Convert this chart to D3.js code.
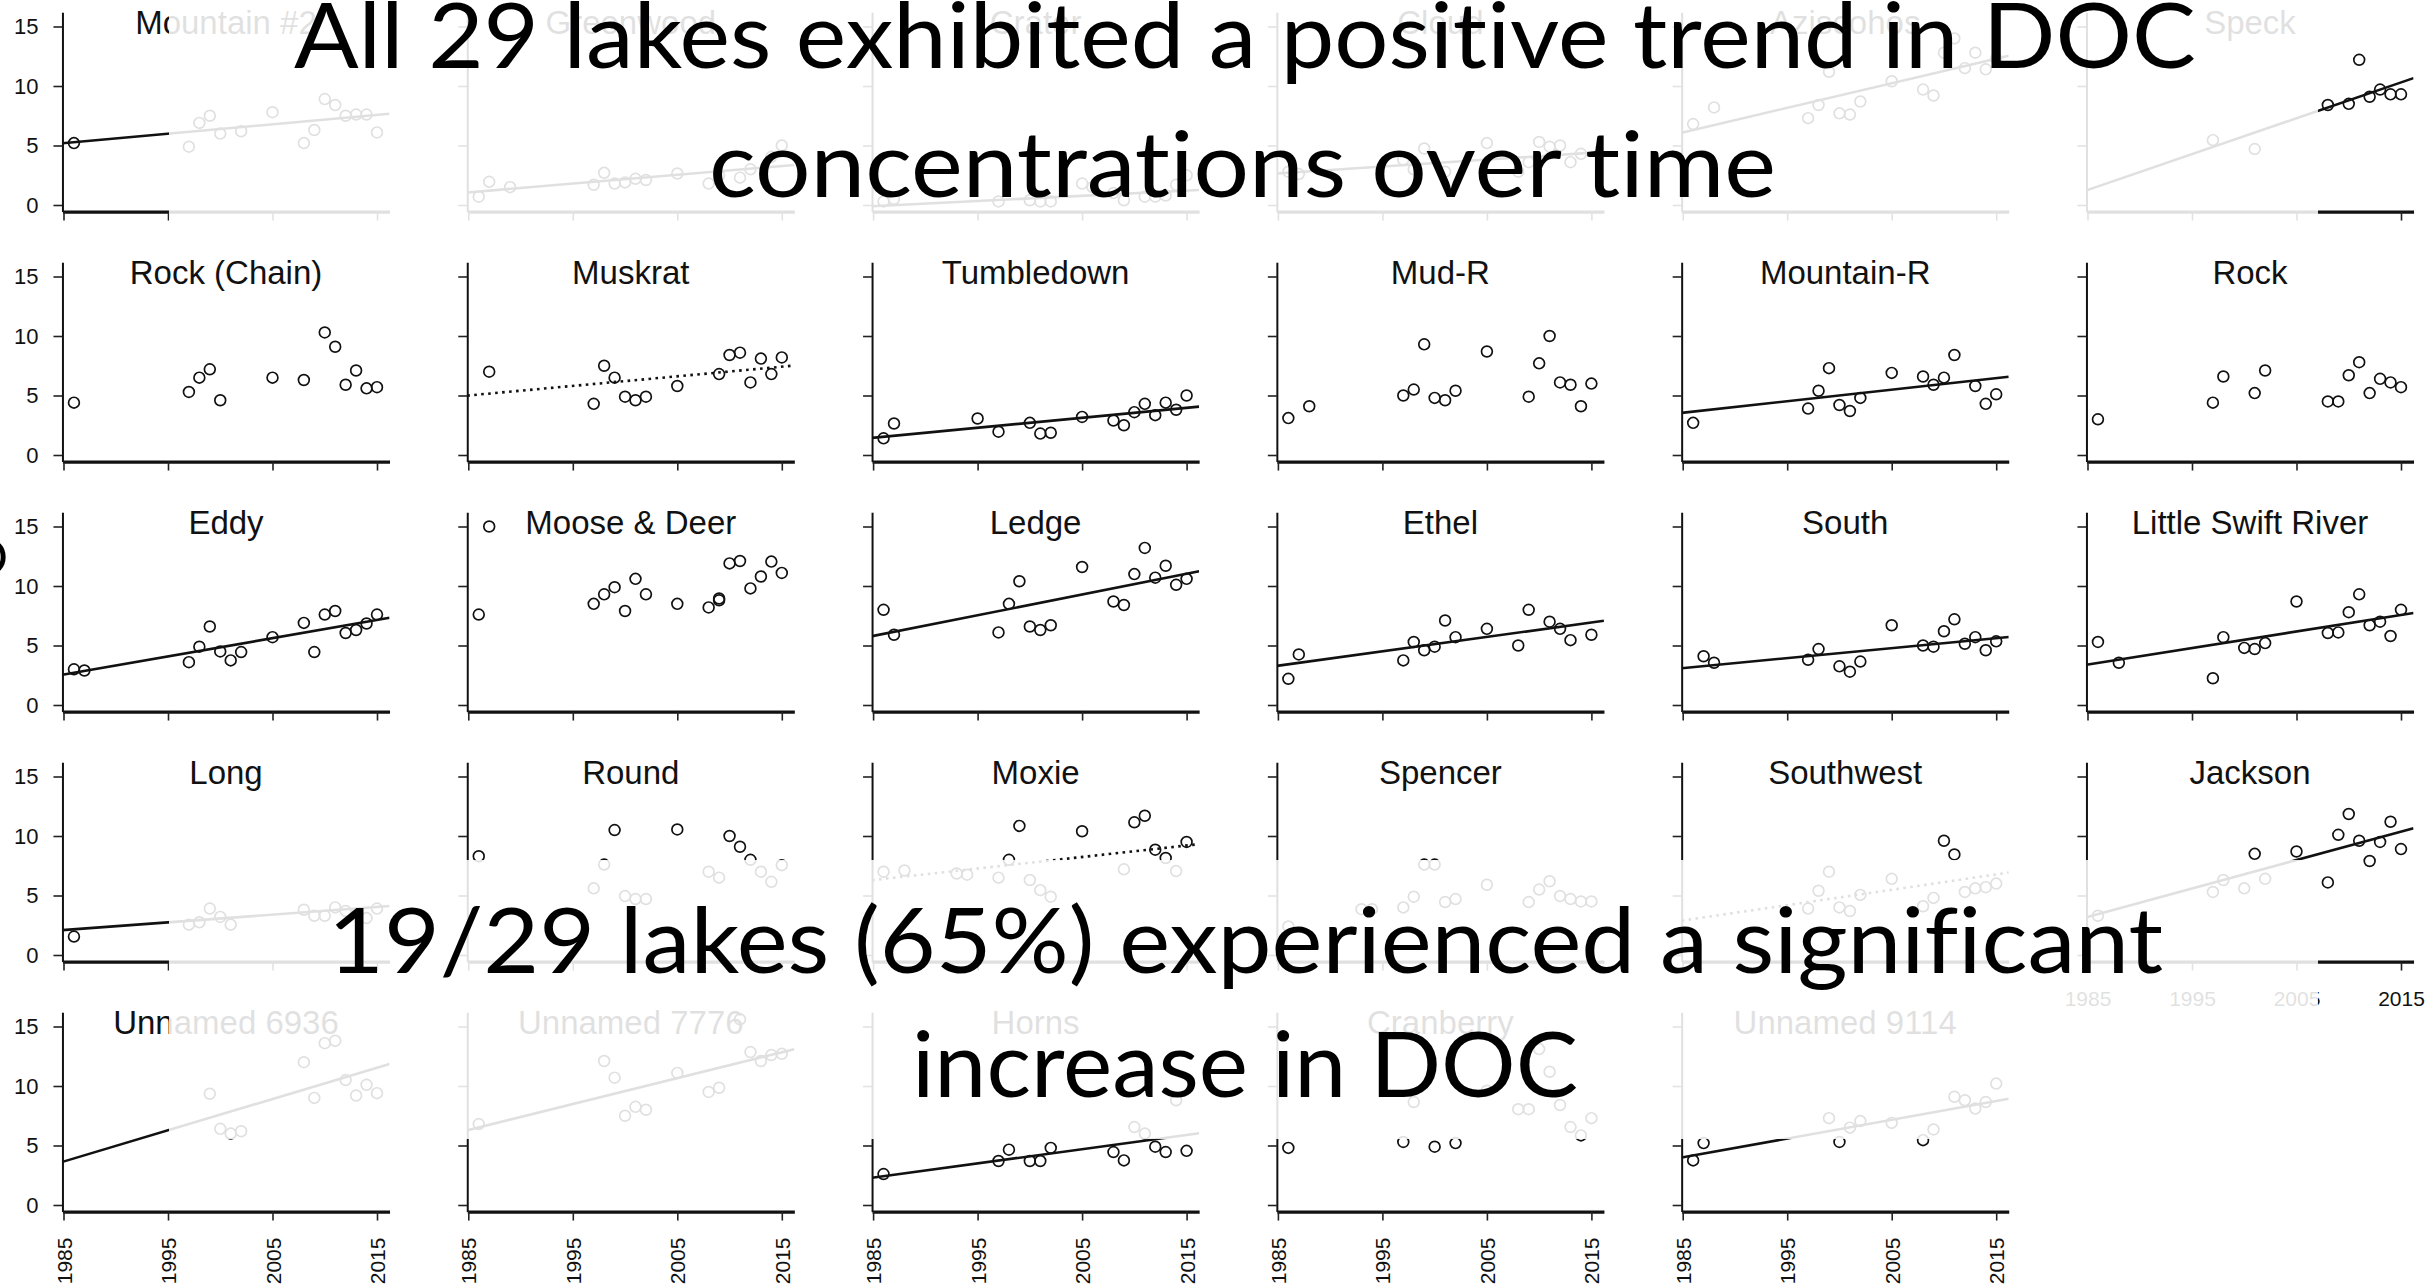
<!DOCTYPE html>
<html>
<head>
<meta charset="utf-8">
<script src="https://cdn.jsdelivr.net/npm/d3@7"></script>
<style>
  body { margin: 0; background: #fff; }
  svg { display: block; }
  .slide-text { font-variant-ligatures: none; font-feature-settings: "liga" 0, "dlig" 0; }
</style>
</head>
<body>
<div id="chart-area"></div>
<script>
// DOC concentration (mg/L) by lake, 1985-2015
const lakeNames = [
    "Mountain #2", "Greenwood", "Crater", "Cloud", "Aziscohos", "Speck",
    "Rock (Chain)", "Muskrat", "Tumbledown", "Mud-R", "Mountain-R", "Rock",
    "Eddy", "Moose & Deer", "Ledge", "Ethel", "South", "Little Swift River",
    "Long", "Round", "Moxie", "Spencer", "Southwest", "Jackson",
    "Unnamed 6936", "Unnamed 7776", "Horns", "Cranberry", "Unnamed 9114"
]

const sampleYears = [
    [1986,1997,1998,1999,2000,2002,2005,2008,2009,2010,2011,2012,2013,2014,2015],
    [1986,1987,1989,1997,1998,1999,2000,2001,2002,2005,2008,2009,2011,2012,2014,2015],
    [1986,1987,1997,2000,2001,2002,2005,2006,2008,2009,2011,2012,2013,2014,2015],
    [1986,1987,1997,1998,1999,2001,2005,2008,2009,2010,2011,2012,2013,2014],
    [1986,1988,1997,1998,1999,2000,2001,2002,2005,2008,2009,2010,2011,2012,2013,2014,2015],
    [1997,2001,2008,2010,2011,2012,2013,2014,2015],
    [1986,1997,1998,1999,2000,2005,2008,2010,2011,2012,2013,2014,2015],
    [1987,1997,1998,1999,2000,2001,2002,2005,2009,2010,2011,2012,2013,2014,2015],
    [1986,1987,1995,1997,2000,2001,2002,2005,2008,2009,2010,2011,2012,2013,2014,2015],
    [1986,1988,1997,1998,1999,2000,2001,2002,2005,2009,2010,2011,2012,2013,2014,2015],
    [1986,1997,1998,1999,2000,2001,2002,2005,2008,2009,2010,2011,2013,2014,2015],
    [1986,1997,1998,2001,2002,2008,2009,2010,2011,2012,2013,2014,2015],
    [1986,1987,1997,1998,1999,2000,2001,2002,2005,2008,2009,2010,2011,2012,2013,2014,2015],
    [1986,1987,1997,1998,1999,2000,2001,2002,2005,2008,2009,2009,2010,2011,2012,2013,2014,2015],
    [1986,1987,1997,1998,1999,2000,2001,2002,2005,2008,2009,2010,2011,2012,2013,2014,2015],
    [1986,1987,1997,1998,1999,2000,2001,2002,2005,2008,2009,2011,2012,2013,2015],
    [1987,1988,1997,1998,2000,2001,2002,2005,2008,2009,2010,2011,2012,2013,2014,2015],
    [1986,1988,1997,1998,2000,2001,2002,2005,2008,2009,2010,2011,2012,2013,2014,2015],
    [1986,1997,1998,1999,2000,2001,2008,2009,2010,2011,2012,2013,2014,2015],
    [1986,1997,1998,1999,2000,2001,2002,2005,2008,2009,2010,2011,2012,2013,2014,2015],
    [1986,1988,1993,1994,1997,1998,1999,2000,2001,2002,2005,2009,2010,2011,2012,2013,2014,2015],
    [1986,1993,1994,1997,1998,1999,2000,2001,2002,2005,2009,2010,2011,2012,2013,2014,2015],
    [1997,1998,1999,2000,2001,2002,2005,2008,2009,2010,2011,2012,2013,2014,2015],
    [1986,1997,1998,2000,2001,2002,2005,2008,2009,2010,2011,2012,2013,2014,2015],
    [1999,2000,2001,2002,2008,2009,2010,2011,2012,2013,2014,2015],
    [1986,1998,1999,2000,2001,2002,2005,2008,2009,2011,2012,2013,2014,2015],
    [1986,1997,1998,2000,2001,2002,2008,2009,2010,2011,2012,2013,2014,2015],
    [1986,1997,1998,2000,2002,2005,2008,2009,2010,2011,2012,2013,2014,2015],
    [1986,1987,1999,2000,2001,2002,2005,2008,2009,2011,2012,2013,2014,2015]
]

const docValues = [
    [5.2,4.9,6.9,7.5,6.0,6.2,7.8,5.2,6.3,8.9,8.4,7.5,7.6,7.6,6.1],
    [0.7,1.95,1.5,1.7,2.7,1.8,1.9,2.2,2.1,2.65,1.8,2.5,2.3,3.0,4.05,5.0],
    [0.3,0.5,0.3,0.4,0.3,0.3,1.8,1.5,1.0,0.4,0.7,0.7,0.8,1.7,2.5],
    [2.8,2.6,3.8,3.0,4.75,2.8,5.2,2.8,3.6,5.3,4.9,5.0,3.6,4.3],
    [6.8,8.2,7.3,8.4,11.2,7.7,7.6,8.7,10.4,9.7,9.2,12.8,14.0,11.5,12.8,11.4,12.3],
    [5.45,4.7,8.4,8.5,12.2,9.1,9.7,9.3,9.3],
    [4.4,5.3,6.5,7.2,4.6,6.5,6.3,10.3,9.1,5.9,7.1,5.6,5.7],
    [7.0,4.3,7.5,6.5,4.9,4.6,4.9,5.8,6.8,8.4,8.6,6.1,8.1,6.8,8.2],
    [1.4,2.65,3.07,1.96,2.7,1.8,1.87,3.2,2.9,2.5,3.6,4.3,3.35,4.4,3.8,5.0],
    [3.1,4.1,5.0,5.5,9.3,4.8,4.6,5.4,8.7,4.9,7.7,10.0,6.1,5.9,4.1,6.0],
    [2.7,3.9,5.4,7.3,4.2,3.7,4.8,6.9,6.6,5.9,6.5,8.4,5.8,4.3,5.1],
    [3.0,4.4,6.6,5.2,7.1,4.5,4.5,6.7,7.8,5.2,6.4,6.1,5.7],
    [3.0,2.9,3.6,4.9,6.6,4.5,3.75,4.45,5.7,6.9,4.45,7.6,7.9,6.05,6.3,6.85,7.6],
    [7.6,15.0,8.5,9.3,9.9,7.9,10.6,9.3,8.5,8.2,8.8,8.95,11.9,12.1,9.8,10.8,12.05,11.1],
    [8.0,5.9,6.1,8.5,10.4,6.6,6.3,6.7,11.6,8.7,8.4,11.0,13.2,10.7,11.7,10.1,10.6],
    [2.2,4.25,3.75,5.3,4.6,4.9,7.1,5.7,6.4,5.0,8.0,7.0,6.4,5.45,5.9],
    [4.1,3.55,3.8,4.7,3.25,2.8,3.65,6.7,5.0,4.9,6.2,7.2,5.15,5.7,4.6,5.35],
    [5.3,3.55,2.25,5.7,4.8,4.7,5.2,8.7,6.05,6.1,7.8,9.3,6.7,7.0,5.8,8.0],
    [1.55,2.55,2.75,3.9,3.2,2.55,3.8,3.3,3.3,4.0,3.7,3.4,3.1,3.9],
    [8.3,5.6,7.6,10.5,4.95,4.7,4.7,10.55,7.0,6.5,10.0,9.1,8.0,7.0,6.15,7.55],
    [7.0,7.1,6.85,6.75,6.5,8.0,10.85,6.3,5.45,4.9,10.4,7.2,11.15,11.7,8.85,8.15,7.05,9.5],
    [2.4,3.85,3.85,4.0,4.9,7.6,7.6,4.45,4.7,5.9,4.45,5.5,6.2,4.95,4.7,4.5,4.5],
    [3.9,5.4,7.0,4.0,3.7,5.05,6.4,4.1,4.8,9.6,8.45,5.3,5.6,5.7,6.0],
    [3.3,5.3,6.3,5.6,8.5,6.4,8.7,6.1,10.1,11.85,9.6,7.9,9.5,11.2,8.9],
    [9.35,6.4,6.0,6.2,12.0,9.0,13.6,13.8,10.5,9.2,10.1,9.4],
    [6.8,12.1,10.7,7.5,8.25,8.0,11.1,9.5,9.85,15.6,12.85,12.1,12.6,12.7],
    [2.6,3.7,4.65,3.7,3.7,4.8,4.45,3.75,6.55,6.0,4.9,4.45,8.8,4.55],
    [4.8,5.3,8.65,4.9,5.2,9.6,8.05,8.05,13.1,11.2,8.4,6.55,5.85,7.3],
    [3.75,5.2,7.3,5.3,6.5,7.05,6.9,5.45,6.35,9.1,8.8,8.1,8.65,10.2]
]

// trend line: value at 1985 and at 2016, and kind ("solid" = significant, "dotted", "none")
const trendStart = [5.2,1.06,-0.1,2.65,6.1,1.26, 0,5.0,1.45,0,3.55,0, 2.55,0,5.8,3.3,3.1,3.4, 2.1,0,6.3,0,2.9,3.2, 3.65,6.3,2.3,0,4.0]
const trendEnd   = [7.65,3.35,1.25,4.45,12.5,10.6, 0,7.5,4.05,0,6.55,0, 7.3,0,11.2,7.05,5.7,7.7, 4.1,0,9.3,0,6.9,10.6, 11.8,13.05,6.0,0,8.9]
const trendType  = ["solid","solid","solid","solid","solid","solid",
    "none","dotted","solid","none","solid","none",
    "solid","none","solid","solid","solid","solid",
    "solid","none","dotted","none","dotted","solid",
    "solid","solid","solid","none","solid"]

const yearTicks = [1985, 1995, 2005, 2015]
const docTicks = [0, 5, 10, 15]

const headline = ["All 29 lakes exhibited a positive trend in DOC", "concentrations over time"]
const footline = ["19/29 lakes (65%) experienced a significant", "increase in DOC"]

const WIDTH = 2428
const HEIGHT = 1286
const COL_X0 = 63.5, COL_STEP = 404.8
const ROW_Y0 = 205, ROW_STEP = 250
const NCOL = 6

const svg = d3.select("#chart-area").append("svg")
    .attr("width", WIDTH)
    .attr("height", HEIGHT)

svg.append("rect").attr("width", WIDTH).attr("height", HEIGHT).attr("fill", "#fff")

// shared scales, panel-local (origin = 1985, DOC 0)
const x = d3.scaleLinear().domain([1984.9, 2016.2]).range([-1.045, 326.04])
const y = d3.scaleLinear().domain([-0.55, 16.2]).range([6.545, -192.78])

const defs = svg.append("defs")
defs.append("clipPath").attr("id", "plotclip")
    .append("rect")
    .attr("x", x(1984.9)).attr("y", y(16.2))
    .attr("width", x(2016.2) - x(1984.9)).attr("height", y(-0.55) - y(16.2))

const AXIS_FONT = "'Liberation Sans', Arial, sans-serif"

lakeNames.forEach((name, i) => {
    const col = i % NCOL
    const row = Math.floor(i / NCOL)
    const g = svg.append("g")
        .attr("transform", `translate(${COL_X0 + col * COL_STEP}, ${ROW_Y0 + row * ROW_STEP})`)

    // y axis
    const yAxisCall = d3.axisLeft(y)
        .tickValues(docTicks)
        .tickSize(9)
        .tickSizeOuter(0)
        .tickFormat(d => col === 0 ? d : "")
    const ya = g.append("g")
        .attr("class", "y axis")
        .attr("transform", `translate(${x(1984.9)}, 0)`)
        .call(yAxisCall)
    ya.select(".domain").attr("stroke", "#111").attr("stroke-width", 2)
    ya.selectAll(".tick line").attr("stroke", "#222").attr("stroke-width", 1.6)
    ya.selectAll(".tick text")
        .attr("x", -24)
        .attr("font-family", AXIS_FONT)
        .attr("font-size", "22px")
        .attr("fill", "#111")

    // x axis
    const bottomRow = i >= 24
    const xAxisCall = d3.axisBottom(x)
        .tickValues(yearTicks)
        .tickSize(9)
        .tickSizeOuter(0)
        .tickFormat(d => (bottomRow || name === "Jackson") ? d : "")
    const xa = g.append("g")
        .attr("class", "x axis")
        .attr("transform", `translate(0, ${y(-0.55)})`)
        .call(xAxisCall)
    xa.select(".domain").attr("stroke", "#111").attr("stroke-width", 3.2)
    xa.selectAll(".tick line").attr("stroke", "#222").attr("stroke-width", 1.6)
    xa.selectAll(".tick text")
        .attr("font-family", AXIS_FONT)
        .attr("font-size", "21px")
        .attr("fill", "#111")
    if (bottomRow) {
        xa.selectAll(".tick text")
            .attr("transform", "rotate(-90)")
            .attr("x", -26)
            .attr("y", 0)
            .attr("dy", "0.36em")
            .style("text-anchor", "end")
    } else {
        xa.selectAll(".tick text").attr("y", 30)
    }

    // title
    g.append("text")
        .attr("x", (x(1984.9) + x(2016.2)) / 2)
        .attr("y", y(15) + 7)
        .attr("text-anchor", "middle")
        .attr("font-family", AXIS_FONT)
        .attr("font-size", "33px")
        .attr("fill", "#111")
        .text(name)

    const plot = g.append("g").attr("clip-path", "url(#plotclip)")

    const pts = sampleYears[i].map((yr, k) => ({ year: yr, doc: docValues[i][k] }))
    plot.selectAll("circle")
        .data(pts)
        .enter().append("circle")
        .attr("cx", d => x(d.year))
        .attr("cy", d => y(d.doc))
        .attr("r", 5.4)
        .attr("fill", "none")
        .attr("stroke", "#111")
        .attr("stroke-width", 1.7)

    if (trendType[i] !== "none") {
        const a = trendStart[i], b = trendEnd[i]
        const at = t => a + (b - a) * (t - 1985) / 31
        const ends = [1984.9, 2016.2]
        plot.append("line")
            .attr("x1", x(ends[0])).attr("y1", y(at(ends[0])))
            .attr("x2", x(ends[1])).attr("y2", y(at(ends[1])))
            .attr("stroke", "#111")
            .attr("stroke-width", 2.6)
            .attr("stroke-dasharray", trendType[i] === "dotted" ? "2.6,4.4" : null)
    }
})

// stray glyph at the left slide edge
svg.append("text")
    .attr("x", 8).attr("y", 575)
    .attr("text-anchor", "end")
    .attr("font-family", "Lato, sans-serif")
    .attr("font-size", "50px")
    .attr("fill", "#000")
    .text("O")

// translucent slide text boxes
const boxes = [
    { x: 169, y: 0, w: 2149, h: 240, lines: headline, base: [68, 197], left: [294, 709], len: [1902, 1067] },
    { x: 169, y: 860, w: 2149, h: 279, lines: footline, base: [973, 1097], left: [328, 912], len: [1835, 666] }
]

boxes.forEach(b => {
    svg.append("rect")
        .attr("x", b.x).attr("y", b.y)
        .attr("width", b.w).attr("height", b.h)
        .attr("fill", "#fff")
        .attr("fill-opacity", 0.87)
    b.lines.forEach((t, k) => {
        svg.append("text")
            .attr("class", "slide-text")
            .attr("x", b.left[k])
            .attr("y", b.base[k])
            .attr("font-family", "Lato, 'Open Sans', sans-serif")
            .attr("font-size", "92px")
            .attr("fill", "#000")
            .attr("textLength", b.len[k])
            .attr("lengthAdjust", "spacingAndGlyphs")
            .text(t)
    })
})
</script>
</body>
</html>
